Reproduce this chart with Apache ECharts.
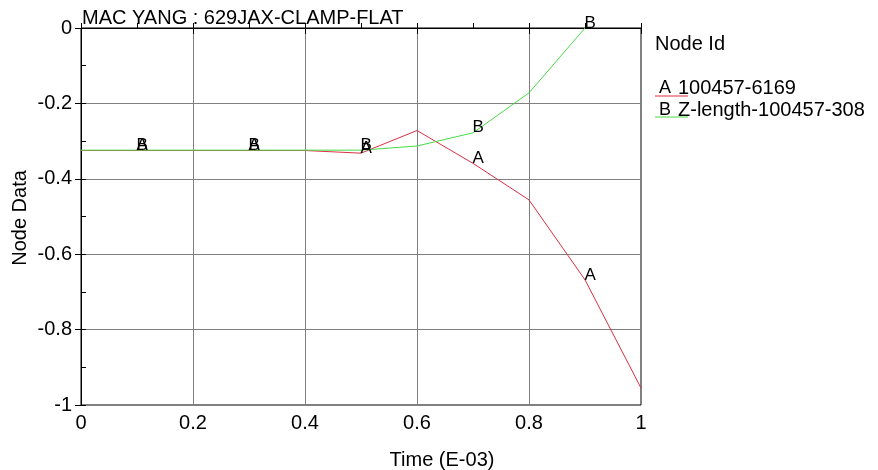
<!DOCTYPE html>
<html><head><meta charset="utf-8">
<script src="https://cdn.jsdelivr.net/npm/echarts@6/dist/echarts.min.js"></script>
<style>html,body{margin:0;padding:0;background:#fff}#c{width:878px;height:470px}</style>
</head><body><div id="c"></div><script>
const titleText = 'MAC YANG : 629JAX-CLAMP-FLAT';
const xName = 'Time (E-03)';
const yName = 'Node Data';
const legendTitle = 'Node Id';
const nameA = '100457-6169';
const nameB = 'Z-length-100457-308';
const markA = 'A';
const markB = 'B';
const timesA = [0, 0.1, 0.2, 0.3, 0.4, 0.5, 0.6, 0.7, 0.8, 0.9, 1.0];
const valuesA = [-0.325, -0.325, -0.325, -0.325, -0.325, -0.332, -0.272, -0.359, -0.456, -0.668, -0.955];
const timesB = [0, 0.1, 0.2, 0.3, 0.4, 0.5, 0.6, 0.7, 0.8, 0.9];
const valuesB = [-0.324, -0.324, -0.324, -0.324, -0.324, -0.324, -0.313, -0.278, -0.172, 0.0];
const labelTimes = [0.1, 0.3, 0.5, 0.7, 0.9];

const FONT = '"Liberation Sans", Arial, sans-serif';
const RED = '#dc2f45';
const GREEN = '#46dc46';
const FS = 20;

function build(times, vals) {
  return times.map((t, i) => ({
    value: [t, vals[i]],
    label: { show: labelTimes.indexOf(t) >= 0 }
  }));
}
function labelCfg(mark) {
  return {
    formatter: () => mark,
    position: [0, 0], align: 'left', verticalAlign: 'bottom', offset: [0, 4],
    color: '#000', fontSize: 17, fontFamily: FONT
  };
}

const chart = echarts.init(document.getElementById('c'), null, { renderer: 'canvas' });
chart.setOption({
  animation: false,
  backgroundColor: '#fff',
  textStyle: { fontFamily: FONT },
  title: {
    text: titleText, left: 82, top: 8, padding: 0,
    textStyle: { fontSize: FS, fontWeight: 'normal', color: '#000', fontFamily: FONT }
  },
  grid: { left: 81, right: 237, top: 28, bottom: 65, show: true, borderColor: '#000', borderWidth: 1, containLabel: false },
  xAxis: [{
    type: 'value', min: 0, max: 1, interval: 0.2, position: 'bottom',
    axisLine: { show: true, lineStyle: { color: '#000', width: 1 } },
    axisTick: { show: true, inside: false, length: 6, lineStyle: { color: '#000' } },
    axisLabel: { fontSize: FS, color: '#000', margin: 8, fontFamily: FONT },
    splitLine: { show: true, lineStyle: { color: '#808080', width: 1 } }
  }, {
    type: 'value', min: 0, max: 1, interval: 0.1, position: 'bottom',
    axisLine: { show: false },
    axisTick: { show: true, inside: true, length: 5, lineStyle: { color: '#000' } },
    axisLabel: { show: false },
    splitLine: { show: false }
  }],
  yAxis: [{
    type: 'value', min: -1, max: 0, interval: 0.2, position: 'left',
    axisLine: { show: true, lineStyle: { color: '#000', width: 1 } },
    axisTick: { show: true, inside: false, length: 6, lineStyle: { color: '#000' } },
    axisLabel: { fontSize: FS, color: '#000', margin: 9, fontFamily: FONT },
    splitLine: { show: true, lineStyle: { color: '#808080', width: 1 } }
  }, {
    type: 'value', min: -1, max: 0, interval: 0.1, position: 'left',
    axisLine: { show: false },
    axisTick: { show: true, inside: true, length: 5, lineStyle: { color: '#000' } },
    axisLabel: { show: false },
    splitLine: { show: false }
  }],
  series: [{
    name: nameA, type: 'line', xAxisIndex: 0, yAxisIndex: 0,
    data: build(timesA, valuesA),
    symbol: 'circle', symbolSize: 1, showSymbol: true,
    itemStyle: { color: 'rgba(0,0,0,0)' },
    lineStyle: { color: RED, width: 1 },
    label: labelCfg(markA),
    emphasis: { disabled: true }
  }, {
    name: nameB, type: 'line', xAxisIndex: 0, yAxisIndex: 0,
    data: build(timesB, valuesB),
    symbol: 'circle', symbolSize: 1, showSymbol: true,
    itemStyle: { color: 'rgba(0,0,0,0)' },
    lineStyle: { color: GREEN, width: 1 },
    label: labelCfg(markB),
    emphasis: { disabled: true }
  }],
  graphic: [
    { type: 'text', x: 442, y: 460, style: { text: xName, font: FS + 'px ' + FONT, fill: '#000', align: 'center', verticalAlign: 'middle' } },
    { type: 'text', x: 20, y: 218, rotation: Math.PI / 2,
      style: { text: yName, font: FS + 'px ' + FONT, fill: '#000', align: 'center', verticalAlign: 'middle' } },
    { type: 'text', x: 655, y: 44, style: { text: legendTitle, font: FS + 'px ' + FONT, fill: '#000', verticalAlign: 'middle' } },
    { type: 'line', shape: { x1: 655, y1: 96, x2: 688, y2: 96 }, style: { stroke: RED, lineWidth: 1 } },
    { type: 'text', x: 659, y: 88, style: { text: markA, font: '18px ' + FONT, fill: '#000', verticalAlign: 'middle' } },
    { type: 'text', x: 678, y: 88, style: { text: nameA, font: FS + 'px ' + FONT, fill: '#000', verticalAlign: 'middle' } },
    { type: 'line', shape: { x1: 655, y1: 117, x2: 688, y2: 117 }, style: { stroke: GREEN, lineWidth: 1 } },
    { type: 'text', x: 659, y: 110, style: { text: markB, font: '18px ' + FONT, fill: '#000', verticalAlign: 'middle' } },
    { type: 'text', x: 678, y: 110, style: { text: nameB, font: FS + 'px ' + FONT, fill: '#000', verticalAlign: 'middle' } }
  ]
});
</script></body></html>
